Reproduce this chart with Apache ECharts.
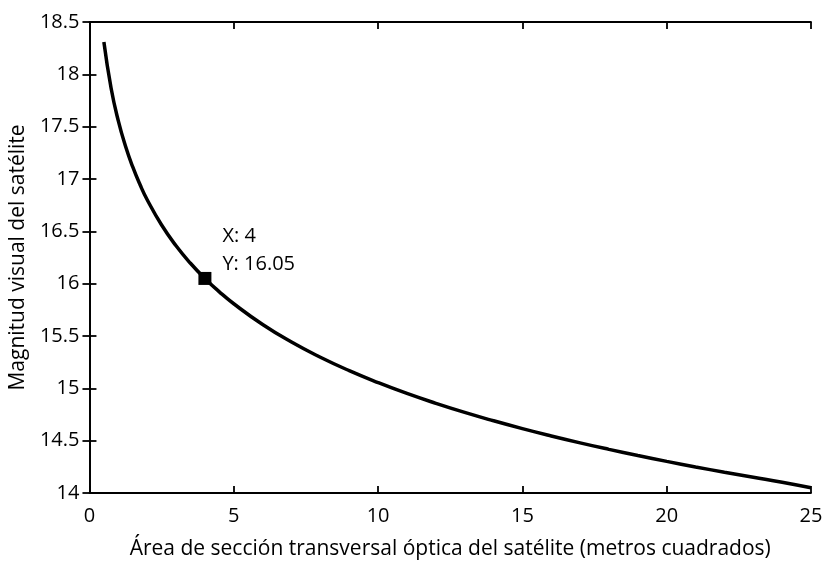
<!DOCTYPE html>
<html><head><meta charset="utf-8">
<script src="https://cdn.jsdelivr.net/npm/echarts@6/dist/echarts.min.js"></script>
<style>html,body{margin:0;padding:0;background:#fff}#c{width:829px;height:565px}</style>
</head><body><div id="c"></div>
<script>
const areaValues = [0.5,0.75,1,1.25,1.5,1.75,2,2.5,3,3.5,4,4.5,5,6,7,8,9,10,11,12,13,14,15,16,17,18,19,20,21,22,23,24,25];
const magnitudeValues = [18.308,17.867,17.555,17.313,17.115,16.947,16.802,16.560,16.362,16.195,16.050,15.922,15.808,15.610,15.442,15.297,15.169,15.055,14.951,14.857,14.770,14.690,14.615,14.545,14.479,14.417,14.358,14.302,14.249,14.199,14.151,14.103,14.050];
const markerPoint = [4, 16.05];
const markerLabel = ['X: 4', 'Y: 16.05'];
const xTitle = 'Área de sección transversal óptica del satélite (metros cuadrados)';
const yTitle = 'Magnitud visual del satélite';

const FONT = 'Open Sans';
const chart = echarts.init(document.getElementById('c'));
const axisBase = {
  axisLine: {show: true, lineStyle: {color: '#000', width: 1.8}},
  axisTick: {show: true, inside: true, length: 7, lineStyle: {color: '#000', width: 1.8}},
  splitLine: {show: false}
};
chart.setOption({
  animation: false,
  grid: {left: 87, right: 18, top: 22, bottom: 69},
  xAxis: [
    Object.assign({}, axisBase, {type: 'value', min: 0, max: 25, interval: 5, position: 'bottom',
      name: xTitle, nameLocation: 'middle', nameGap: 46,
      nameTextStyle: {fontFamily: FONT, fontSize: 21, color: '#000'},
      axisLabel: {fontFamily: FONT, fontSize: 20, color: '#000', margin: 13}}),
    Object.assign({}, axisBase, {type: 'value', min: 0, max: 25, interval: 5, position: 'top',
      axisLabel: {show: false}})
  ],
  yAxis: [
    Object.assign({}, axisBase, {type: 'value', min: 14, max: 18.5, interval: 0.5, position: 'left',
      name: yTitle, nameLocation: 'middle', nameGap: 57,
      nameTextStyle: {fontFamily: FONT, fontSize: 21, color: '#000'},
      axisLabel: {fontFamily: FONT, fontSize: 20, color: '#000', margin: 10}}),
    Object.assign({}, axisBase, {type: 'value', min: 14, max: 18.5, interval: 0.5, position: 'right',
      axisLabel: {show: false}})
  ],
  series: [
    {type: 'line', data: areaValues.map((x, i) => [x, magnitudeValues[i]]),
     smooth: true, showSymbol: false,
     lineStyle: {color: '#000', width: 3.5}},
    {type: 'scatter', data: [markerPoint], symbol: 'rect', symbolSize: 13,
     itemStyle: {color: '#000', opacity: 1},
     label: {show: true, position: 'right', offset: [6, -28], align: 'left',
       formatter: markerLabel.join('\n'), fontFamily: FONT, fontSize: 20, lineHeight: 28, color: '#000'}}
  ]
});
</script></body></html>
